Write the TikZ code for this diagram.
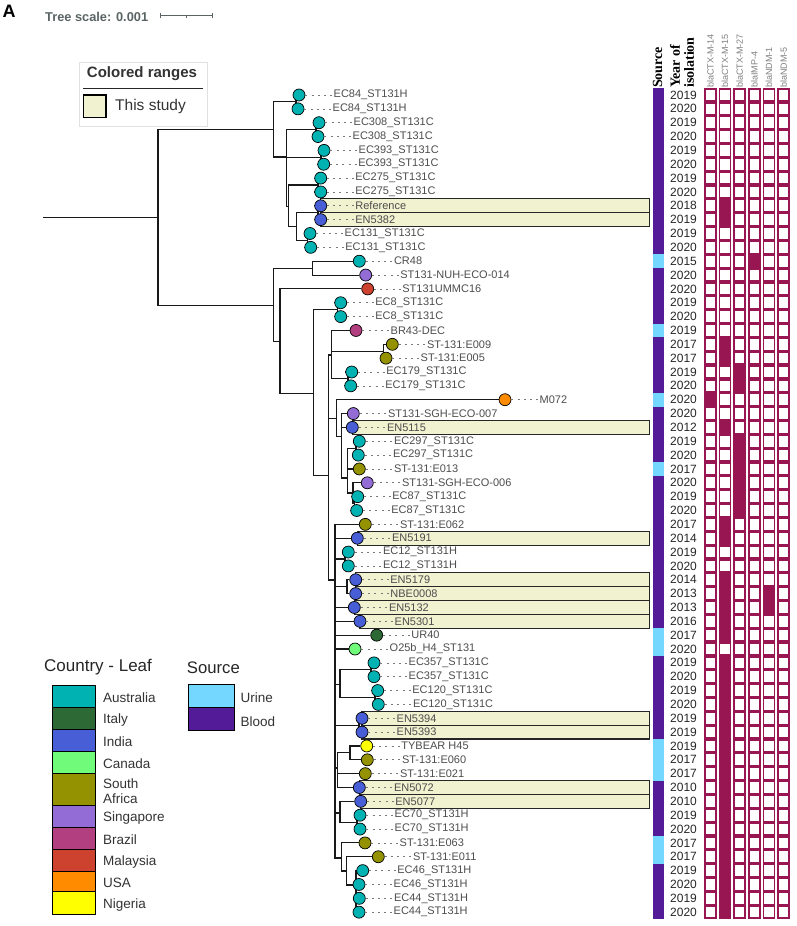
\documentclass[tikz,border=0pt]{standalone}
\usepackage{fontspec}
\setmainfont{Liberation Sans}
\newfontfamily\headserif{Liberation Serif}
\pgfdeclarelayer{ranges}
\pgfdeclarelayer{branches}
\pgfsetlayers{ranges,branches,main}
\definecolor{aus}{RGB}{0,178,178}
\definecolor{ita}{RGB}{45,105,52}
\definecolor{ind}{RGB}{72,94,214}
\definecolor{can}{RGB}{112,252,122}
\definecolor{saf}{RGB}{148,146,0}
\definecolor{sin}{RGB}{148,108,214}
\definecolor{bra}{RGB}{178,64,128}
\definecolor{mal}{RGB}{204,66,46}
\definecolor{usa}{RGB}{255,140,0}
\definecolor{nig}{RGB}{255,255,0}
\definecolor{urine}{RGB}{115,215,255}
\definecolor{blood}{RGB}{84,27,153}
\definecolor{gene}{RGB}{152,22,82}
\definecolor{study}{RGB}{240,242,208}
\definecolor{labelgray}{RGB}{77,77,77}
\definecolor{scalegray}{RGB}{90,100,100}

\begin{document}
\begin{tikzpicture}[x=1pt,y=-1pt]
	\tikzstyle{tipdot}=[circle,draw=black,line width=0.7pt,minimum size=12pt,inner sep=0pt]
	\tikzstyle{tiplabel}=[anchor=west,inner sep=0.5pt,text=labelgray,font=\fontsize{11}{13}\selectfont]
	\tikzstyle{tipdots}=[labelgray!75,line width=0.7pt,dash pattern=on 2pt off 4.2pt]
	\tikzstyle{treeline}=[black!90,line width=1.1pt]
	\tikzstyle{studyrange}=[fill=study,draw=black!85,line width=1.2pt]
	\tikzstyle{yeartext}=[inner sep=0pt,text=black!85,font=\fontsize{12}{14}\selectfont]
	\tikzstyle{genecell}=[draw=gene,line width=1.6pt,fill=white]
	\tikzstyle{colhead}=[rotate=90,anchor=west,inner sep=0pt,font=\headserif\bfseries\fontsize{14}{16}\selectfont]
	\tikzstyle{genehead}=[rotate=90,anchor=west,inner sep=0pt,text=black!50,font=\fontsize{9}{10}\selectfont]
	\tikzstyle{swatch}=[draw=black,line width=1pt]
	\tikzstyle{legtext}=[anchor=west,inner sep=0pt,align=left,text=black!80,font=\fontsize{13.5}{15.3}\selectfont]

	\useasboundingbox (0,0) rectangle (796,926);

	\node[font=\bfseries\fontsize{18}{18}\selectfont] (panel) at (9,11) {A};
	\node[anchor=west,inner sep=0pt,text=scalegray,font=\bfseries\fontsize{12.8}{14}\selectfont] (scale) at (45,16.7) {Tree scale: 0.001};
	\coordinate (sb1) at (160,15.7);
	\coordinate (sb2) at (212.3,15.7);
	\coordinate (sbm) at (186,15.7);
	\draw[scalegray,line width=0.8pt] (sb1) -- (sb2);
	\draw[scalegray,line width=0.8pt] ([yshift=-2.7pt]sb1) -- ([yshift=2.7pt]sb1);
	\draw[scalegray,line width=0.8pt] ([yshift=-2.7pt]sb2) -- ([yshift=2.7pt]sb2);
	\draw[scalegray,line width=0.8pt] (sbm) -- ([yshift=-2.7pt]sbm);

	\draw[black!12] (79,62) rectangle (207,126);
	\node[text=black!80,font=\bfseries\fontsize{15}{17}\selectfont] (crtitle) at (142,73.3) {Colored ranges};
	\draw[black!85,line width=0.9pt] (83,88.3) -- (203,88.3);
	\draw[swatch,fill=study,line width=1.3pt] (83.3,95) rectangle (106,117.3);
	\node[legtext,font=\fontsize{15.5}{17}\selectfont] (thisstudy) at (115,106) {This study};

	\begin{pgfonlayer}{ranges}
		\foreach \r/\x in {9/320.7,10/320.7,25/352.3,33/357.3,36/355.7,37/355.7,38/354.3,39/360,46/362,47/362,51/359.3,52/360.7}{
			\pgfmathsetmacro{\yy}{95+(\r-1)*13.85}
			\draw[studyrange] (\x,\yy-6.925) rectangle (649.5,\yy+6.925);
		}
	\end{pgfonlayer}

	\foreach \r/\x/\cc/\lab in {1/299/aus/EC84\_ST131H,2/298/aus/EC84\_ST131H,3/319/aus/EC308\_ST131C,4/318/aus/EC308\_ST131C,
		5/324/aus/EC393\_ST131C,6/323.7/aus/EC393\_ST131C,7/320.7/aus/EC275\_ST131C,8/320.7/aus/EC275\_ST131C,
		9/320.7/ind/Reference,10/320.7/ind/EN5382,11/310/aus/EC131\_ST131C,12/310.7/aus/EC131\_ST131C,
		13/359.3/aus/CR48,14/365.7/sin/ST131-NUH-ECO-014,15/367.7/mal/ST131UMMC16,16/340.7/aus/EC8\_ST131C,
		17/340.7/aus/EC8\_ST131C,18/356/bra/BR43-DEC,19/392.3/saf/ST-131:E009,20/386/saf/ST-131:E005,
		21/351.7/aus/EC179\_ST131C,22/350.7/aus/EC179\_ST131C,23/505/usa/M072,24/353.3/sin/ST131-SGH-ECO-007,
		25/352.3/ind/EN5115,26/359.3/aus/EC297\_ST131C,27/358.3/aus/EC297\_ST131C,28/359.3/saf/ST-131:E013,
		29/367.3/sin/ST131-SGH-ECO-006,30/357.7/aus/EC87\_ST131C,31/356.7/aus/EC87\_ST131C,32/365.3/saf/ST-131:E062,
		33/357.3/ind/EN5191,34/348.3/aus/EC12\_ST131H,35/348.3/aus/EC12\_ST131H,36/355.7/ind/EN5179,
		37/355.7/ind/NBE0008,38/354.3/ind/EN5132,39/360/ind/EN5301,40/376.7/ita/UR40,
		41/355/can/O25b\_H4\_ST131,42/374/aus/EC357\_ST131C,43/374/aus/EC357\_ST131C,44/377.7/aus/EC120\_ST131C,
		45/378.3/aus/EC120\_ST131C,46/362/ind/EN5394,47/362/ind/EN5393,48/366.7/nig/TYBEAR H45,
		49/367.3/saf/ST-131:E060,50/365.3/saf/ST-131:E021,51/359.3/ind/EN5072,52/360.7/ind/EN5077,
		53/360/aus/EC70\_ST131H,54/360/aus/EC70\_ST131H,55/365/saf/ST-131:E063,56/378.3/saf/ST-131:E011,
		57/362.7/aus/EC46\_ST131H,58/359/aus/EC46\_ST131H,59/359.3/aus/EC44\_ST131H,60/359/aus/EC44\_ST131H}{
		\pgfmathsetmacro{\yy}{95+(\r-1)*13.85}
		\node[tipdot,fill=\cc] (l\r) at (\x,\yy) {};
		\node[tiplabel] (t\r) at (\x+34,\yy) {\lab};
		\draw[tipdots] (l\r) -- (t\r);
	}

	\coordinate (stem) at (43,217.7);
	\coordinate (n0) at (158,217.7);
	\coordinate (nU) at (273.3,129.6);
	\coordinate (nL) at (273.3,305.7);
	\coordinate (c1) at (296,101.9);
	\coordinate (nA2) at (286.7,157);
	\coordinate (c2) at (316,129.6);
	\coordinate (c3) at (321,157.3);
	\coordinate (nA3) at (288.3,206.7);
	\coordinate (c4) at (318,185);
	\coordinate (nA4) at (296.7,226.7);
	\coordinate (c5) at (318,212.7);
	\coordinate (c6) at (307.5,240.4);
	\coordinate (nB1) at (312.7,268.1);
	\coordinate (nL2) at (280,341.7);
	\coordinate (nS) at (313.3,393.3);
	\coordinate (c7) at (337.5,309.7);
	\coordinate (nT) at (328.3,475.7);
	\coordinate (nR1) at (331.7,355);
	\coordinate (c8) at (383.3,351.2);
	\coordinate (c9) at (348,378.9);
	\coordinate (nR2) at (336.7,418.7);
	\coordinate (nR3) at (341.7,436.7);
	\coordinate (nR4) at (347.3,478);
	\coordinate (c10) at (356,448.2);
	\coordinate (nR5) at (353,493);
	\coordinate (c11) at (354.5,503.6);
	\coordinate (nQ2) at (335,580);
	\coordinate (c12) at (345,559);
	\coordinate (c13) at (347,586.7);
	\coordinate (nP2) at (340,684.3);
	\coordinate (c14) at (371,669.8);
	\coordinate (c15) at (375,697.5);
	\coordinate (c16) at (359,725.2);
	\coordinate (nP3) at (337.7,768);
	\coordinate (c17) at (350,752.9);
	\coordinate (nP5) at (340,813);
	\coordinate (c18) at (357,822.1);
	\coordinate (nP6) at (341.7,858);
	\coordinate (nP7) at (346.7,871);
	\coordinate (c19) at (356,885);

	\begin{pgfonlayer}{branches}
		\draw[treeline] (stem) -- (n0);
		\foreach \p/\ch in {n0/nU,n0/nL,nU/c1,nU/nA2,c1/l1,c1/l2,nA2/c2,c2/l3,c2/l4,nA2/c3,c3/l5,c3/l6,
			nA2/nA3,nA3/c4,c4/l7,c4/l8,nA3/nA4,nA4/c5,c5/l9,c5/l10,nA4/c6,c6/l11,c6/l12,
			nL/nB1,nB1/l13,nB1/l14,nL/nL2,nL2/l15,nL2/nS,nS/c7,c7/l16,c7/l17,nS/nT,
			nT/nR1,nR1/l18,nR1/c8,c8/l19,c8/l20,nR1/c9,c9/l21,c9/l22,
			nT/nR2,nR2/l23,nR2/nR3,nR3/l24,nR3/l25,nR3/nR4,nR4/c10,c10/l26,c10/l27,nR4/l28,
			nR4/nR5,nR5/l29,nR5/c11,c11/l30,c11/l31,
			nT/nQ2,nQ2/l32,nQ2/l33,nQ2/c12,c12/l34,c12/l35,nQ2/c13,c13/l36,c13/l37,nQ2/l38,nQ2/l39,
			nQ2/l40,nQ2/l41,nQ2/nP2,nP2/c14,c14/l42,c14/l43,nP2/c15,c15/l44,c15/l45,nQ2/c16,c16/l46,c16/l47,
			nQ2/nP3,nP3/c17,c17/l48,c17/l49,nP3/l50,nP3/l51,nQ2/nP5,nP5/l52,nP5/c18,c18/l53,c18/l54,
			nQ2/nP6,nP6/l55,nP6/nP7,nP7/l56,nP7/c19,c19/l57,c19/l58,c19/l59,c19/l60}
			\draw[treeline] (\p) |- (\ch);
	\end{pgfonlayer}

	\node[colhead] (hsrc) at (657.5,88) {Source};
	\node[colhead] (hyr1) at (675,88) {Year of};
	\node[colhead] (hyr2) at (689,88) {isolation};
	\foreach \k/\g in {0/CTX-M-14,1/CTX-M-15,2/CTX-M-27,3/IMP-4,4/NDM-1,5/NDM-5}
		\node[genehead] (g\k) at (710.35+\k*14.65,88) {bla\g};

	\foreach \r/\yr/\src in {1/2019/blood,2/2020/blood,3/2019/blood,4/2020/blood,5/2019/blood,6/2020/blood,
		7/2019/blood,8/2020/blood,9/2018/blood,10/2019/blood,11/2019/blood,12/2020/blood,13/2015/urine,
		14/2020/blood,15/2020/blood,16/2019/blood,17/2020/blood,18/2019/urine,19/2017/blood,20/2017/blood,
		21/2019/blood,22/2020/blood,23/2020/urine,24/2020/blood,25/2012/blood,26/2019/blood,27/2020/blood,
		28/2017/urine,29/2020/blood,30/2019/blood,31/2020/blood,32/2017/blood,33/2014/blood,34/2019/blood,
		35/2020/blood,36/2014/blood,37/2013/blood,38/2013/blood,39/2016/blood,40/2017/urine,41/2020/urine,
		42/2019/blood,43/2020/blood,44/2019/blood,45/2020/blood,46/2019/blood,47/2019/blood,48/2019/urine,
		49/2017/urine,50/2017/urine,51/2010/blood,52/2010/blood,53/2019/blood,54/2020/blood,55/2017/urine,
		56/2017/urine,57/2019/blood,58/2020/blood,59/2019/blood,60/2020/blood}{
		\pgfmathsetmacro{\yy}{95+(\r-1)*13.85}
		\fill[\src] (653,\yy-6.925) rectangle (663.5,\yy+6.925);
		\node[yeartext] (yr\r) at (683.5,\yy) {\yr};
		\foreach \k in {0,...,5}
			\draw[genecell] (704.8+\k*14.65,\yy-6.125) rectangle (715.9+\k*14.65,\yy+6.125);
	}
	\foreach \r/\k in {23/0,13/3,37/4,38/4,21/2,22/2,26/2,27/2,28/2,29/2,30/2,31/2,
		9/1,10/1,19/1,20/1,25/1,32/1,33/1,36/1,37/1,38/1,39/1,40/1}{
		\pgfmathsetmacro{\yy}{95+(\r-1)*13.85}
		\fill[gene] (704+\k*14.65,\yy-6.925) rectangle (716.7+\k*14.65,\yy+6.925);
	}
	\foreach \r in {42,...,60}{
		\pgfmathsetmacro{\yy}{95+(\r-1)*13.85}
		\fill[gene] (718.65,\yy-6.925) rectangle (731.35,\yy+6.925);
	}

	\node[anchor=west,inner sep=0pt,text=black!85,font=\fontsize{17}{19}\selectfont] (ctitle) at (44,667.3) {Country - Leaf};
	\foreach \name/\cc/\ta/\tb in {Australia/aus/685/707.3,Italy/ita/707.3/729,India/ind/729/751,Canada/can/751/773,
		{South\\Africa}/saf/773/805,Singapore/sin/805/827,Brazil/bra/827/849,Malaysia/mal/849/871,
		USA/usa/871/891.5,Nigeria/nig/891.5/914}{
		\draw[swatch,fill=\cc] (52.3,\ta) rectangle (95.7,\tb);
		\node[legtext] at (103,{(\ta+\tb)/2+2}) {\name};
	}
	\node[anchor=west,inner sep=0pt,text=black!85,font=\fontsize{16.7}{19}\selectfont] (stitle) at (186.7,667.3) {Source};
	\draw[swatch,fill=urine] (188.3,684.3) rectangle (234.3,707.7);
	\draw[swatch,fill=blood] (188.3,707.7) rectangle (234.3,730);
	\node[legtext] (lurine) at (240.5,698) {Urine};
	\node[legtext] (lblood) at (240.5,721.5) {Blood};
\end{tikzpicture}
\end{document}
